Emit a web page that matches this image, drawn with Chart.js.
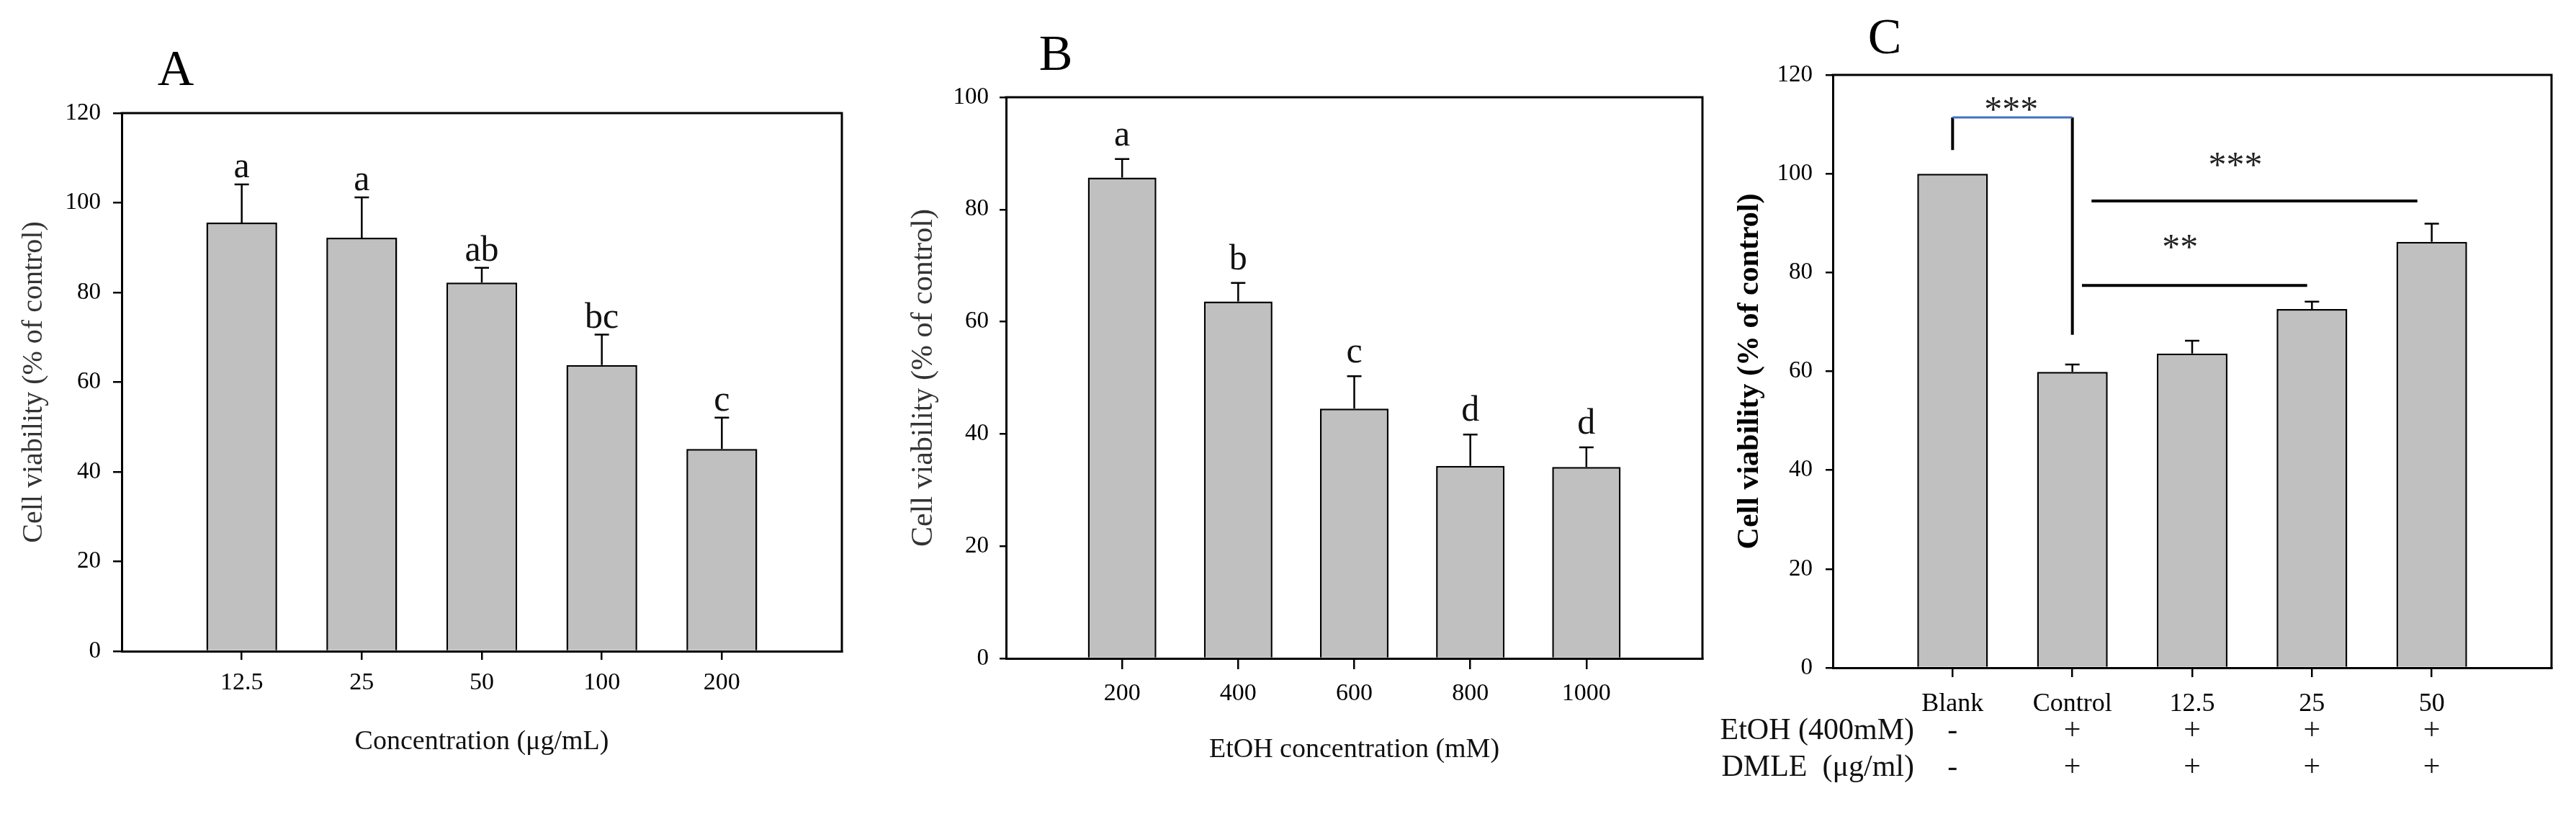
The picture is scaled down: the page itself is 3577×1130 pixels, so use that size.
<!DOCTYPE html>
<html>
<head>
<meta charset="utf-8">
<script src="https://cdn.jsdelivr.net/npm/chart.js@4.4.0/dist/chart.umd.min.js"></script>
<style>
body { margin: 0; background: #fff; width: 3577px; height: 1130px; overflow: hidden; position: relative; }
canvas { position: absolute; top: 0; }
</style>
</head>
<body>
<canvas id="chartA" width="1200" height="1130" style="left:0px"></canvas>
<canvas id="chartB" width="1180" height="1130" style="left:1200px"></canvas>
<canvas id="chartC" width="1197" height="1130" style="left:2380px"></canvas>
<script>
// panel A - extract concentration
const concA = ['12.5', '25', '50', '100', '200'];
const viabA = [95.6, 92.2, 82.2, 63.8, 45.1];
const errA = [8.5, 9.0, 3.3, 6.8, 7.0];
const letA = ['a', 'a', 'ab', 'bc', 'c'];
const ticksA = [0, 20, 40, 60, 80, 100, 120];

// panel B - EtOH concentration
const etohB = ['200', '400', '600', '800', '1000'];
const viabB = [85.7, 63.6, 44.5, 34.3, 34.1];
const errB = [3.3, 3.3, 5.8, 5.6, 3.5];
const letB = ['a', 'b', 'c', 'd', 'd'];
const ticksB = [0, 20, 40, 60, 80, 100];

// panel C - protection
const groupsC = ['Blank', 'Control', '12.5', '25', '50'];
const viabC = [100, 59.9, 63.6, 72.6, 86.2];
const errC = [0, 1.5, 2.6, 1.5, 3.7];
const etohRowC = ['-', '+', '+', '+', '+'];
const dmleRowC = ['-', '+', '+', '+', '+'];
const ticksC = [0, 20, 40, 60, 80, 100, 120];
// significance marks in axis units (x = group number 1..5)
const bracketC = [1, 2, 104.8, 111.4, 67.4];   // x1, x2, left foot, top, right foot
const sigLinesC = [[2.16, 4.88, 94.5], [2.08, 3.96, 77.4]];
const sigTextC = [['***', 1.49, 114.4], ['***', 3.36, 103.2], ['**', 2.90, 86.6]];

const SERIF = '"Liberation Serif", "Times New Roman", serif';

function points(vals) {
    return vals.map(function (v, i) { return { x: i + 1, y: v }; });
}

function errorBars(errs, letters, gap) {
    return {
        id: 'errbars',
        afterDatasetsDraw: function (chart) {
            var ctx = chart.ctx, y = chart.scales.y;
            var meta = chart.getDatasetMeta(0);
            var vals = chart.data.datasets[0].data;
            ctx.save();
            ctx.strokeStyle = '#000';
            ctx.lineWidth = 2.5;
            ctx.fillStyle = '#111';
            ctx.font = '50px ' + SERIF;
            ctx.textAlign = 'center';
            ctx.textBaseline = 'alphabetic';
            meta.data.forEach(function (bar, i) {
                var v = vals[i].y;
                var top = y.getPixelForValue(v + errs[i]);
                if (errs[i] > 0) {
                    ctx.beginPath();
                    ctx.moveTo(bar.x, y.getPixelForValue(v));
                    ctx.lineTo(bar.x, top);
                    ctx.moveTo(bar.x - 10, top);
                    ctx.lineTo(bar.x + 10, top);
                    ctx.stroke();
                }
                if (letters) ctx.fillText(letters[i], bar.x, top - gap);
            });
            ctx.restore();
        }
    };
}

function frame(letter, dx, dy) {
    return {
        id: 'frame',
        afterDraw: function (chart) {
            var a = chart.chartArea, ctx = chart.ctx;
            ctx.save();
            ctx.strokeStyle = '#000';
            ctx.lineWidth = 3;
            ctx.lineCap = 'square';
            ctx.beginPath();
            ctx.moveTo(a.left, a.top);
            ctx.lineTo(a.right, a.top);
            ctx.lineTo(a.right, a.bottom);
            ctx.stroke();
            ctx.fillStyle = '#000';
            ctx.font = '70px ' + SERIF;
            ctx.textAlign = 'center';
            ctx.fillText(letter, a.left + dx, a.top - dy);
            ctx.restore();
        }
    };
}

var sigPlugin = {
    id: 'sig',
    afterDraw: function (chart) {
        var ctx = chart.ctx, x = chart.scales.x, y = chart.scales.y, a = chart.chartArea;
        function px(v) { return x.getPixelForValue(v); }
        function py(v) { return y.getPixelForValue(v); }
        ctx.save();
        // Blank vs Control bracket
        ctx.strokeStyle = '#000';
        ctx.lineWidth = 4;
        ctx.beginPath();
        ctx.moveTo(px(bracketC[0]), py(bracketC[2]));
        ctx.lineTo(px(bracketC[0]), py(bracketC[3]));
        ctx.moveTo(px(bracketC[1]), py(bracketC[3]));
        ctx.lineTo(px(bracketC[1]), py(bracketC[4]));
        ctx.stroke();
        ctx.strokeStyle = '#4472c4';
        ctx.lineWidth = 3;
        ctx.beginPath();
        ctx.moveTo(px(bracketC[0]), py(bracketC[3]));
        ctx.lineTo(px(bracketC[1]), py(bracketC[3]));
        ctx.stroke();

        ctx.strokeStyle = '#000';
        ctx.lineWidth = 4;
        sigLinesC.forEach(function (l) {
            ctx.beginPath();
            ctx.moveTo(px(l[0]), py(l[2]));
            ctx.lineTo(px(l[1]), py(l[2]));
            ctx.stroke();
        });

        ctx.fillStyle = '#222';
        ctx.font = '50px ' + SERIF;
        ctx.textAlign = 'center';
        ctx.textBaseline = 'alphabetic';
        sigTextC.forEach(function (s) {
            ctx.fillText(s[0], px(s[1]), py(s[2]) + 26);
        });

        // treatment rows under the axis
        ctx.fillStyle = '#111';
        ctx.font = '42px ' + SERIF;
        ctx.textBaseline = 'middle';
        var rows = [['EtOH (400mM)', etohRowC, 88], ['DMLE  (\u03bcg/ml)', dmleRowC, 139]];
        rows.forEach(function (r) {
            ctx.textAlign = 'right';
            ctx.fillText(r[0], a.left + 113, a.bottom + r[2]);
            ctx.textAlign = 'center';
            r[1].forEach(function (s, i) {
                ctx.fillText(s, px(i + 1), a.bottom + r[2]);
            });
        });
        ctx.restore();
    }
};

function panel(id, o) {
    return new Chart(document.getElementById(id), {
        type: 'bar',
        data: {
            datasets: [{
                data: points(o.vals),
                backgroundColor: '#c0c0c0',
                borderColor: '#000',
                borderWidth: 2.5,
                barPercentage: 0.59,
                categoryPercentage: 1
            }]
        },
        options: {
            responsive: false,
            animation: false,
            devicePixelRatio: 1,
            layout: { padding: { top: o.top, right: o.right, left: 0, bottom: 0 } },
            plugins: { legend: { display: false }, tooltip: { enabled: false } },
            scales: {
                x: {
                    type: 'linear',
                    min: 0,
                    max: 6,
                    offset: false,
                    afterBuildTicks: function (s) { s.ticks = o.cats.map(function (c, i) { return { value: i + 1 }; }); },
                    afterFit: function (s) { s.height = o.xh; },
                    grid: { offset: false, drawOnChartArea: false, drawTicks: true, tickLength: o.xtl, color: '#000', lineWidth: 2.5 },
                    border: { display: true, color: '#000', width: 3 },
                    ticks: {
                        autoSkip: false,
                        maxRotation: 0,
                        padding: o.xpad,
                        color: '#000',
                        font: { family: SERIF, size: o.xfont },
                        callback: function (v) { return o.cats[v - 1]; }
                    },
                    title: o.xtitle ? {
                        display: true,
                        text: o.xtitle,
                        color: '#111',
                        font: { family: SERIF, size: 38 },
                        padding: { top: 0, bottom: o.xtpad }
                    } : { display: false }
                },
                y: {
                    min: 0,
                    max: o.ymax,
                    afterBuildTicks: function (s) { s.ticks = o.yticks.map(function (v) { return { value: v }; }); },
                    afterFit: function (s) { s.width = o.yw; },
                    grid: { drawOnChartArea: false, drawTicks: true, tickLength: o.ytl, color: '#000', lineWidth: 2.5 },
                    border: { display: true, color: '#000', width: 3 },
                    ticks: { padding: o.ypad, color: '#000', font: { family: SERIF, size: 33 } },
                    title: {
                        display: true,
                        text: 'Cell viability (% of control)',
                        color: o.ytbold ? '#000' : '#333',
                        font: { family: SERIF, size: o.ytfont, weight: o.ytbold ? 'bold' : 'normal' },
                        padding: { top: o.ytpad, bottom: 0 }
                    }
                }
            }
        },
        plugins: o.plugins
    });
}

panel('chartA', {
    cats: concA, vals: viabA, yticks: ticksA, ymax: 120,
    top: 157, right: 31, yw: 169, xh: 226,
    xtl: 12, xpad: 12, xfont: 34, xtitle: 'Concentration (\u03bcg/mL)', xtpad: 77,
    ytl: 12, ypad: 17, ytfont: 40, ytpad: 23,
    plugins: [errorBars(errA, letA, 10), frame('A', 75, 39)]
});

panel('chartB', {
    cats: etohB, vals: viabB, yticks: ticksB, ymax: 100,
    top: 135, right: 16, yw: 197, xh: 216,
    xtl: 15, xpad: 14, xfont: 34, xtitle: 'EtOH concentration (mM)', xtpad: 66,
    ytl: 9, ypad: 15, ytfont: 42, ytpad: 58,
    plugins: [errorBars(errB, letB, 19), frame('B', 69, 38)]
});

panel('chartC', {
    cats: groupsC, vals: viabC, yticks: ticksC, ymax: 120,
    top: 104, right: 34, yw: 165, xh: 203,
    xtl: 13, xpad: 16, xfont: 36, xtitle: null,
    ytl: 10, ypad: 18, ytfont: 42, ytpad: 25, ytbold: true,
    plugins: [errorBars(errC, null, 0), frame('C', 72, 30), sigPlugin]
});
</script>
</body>
</html>
